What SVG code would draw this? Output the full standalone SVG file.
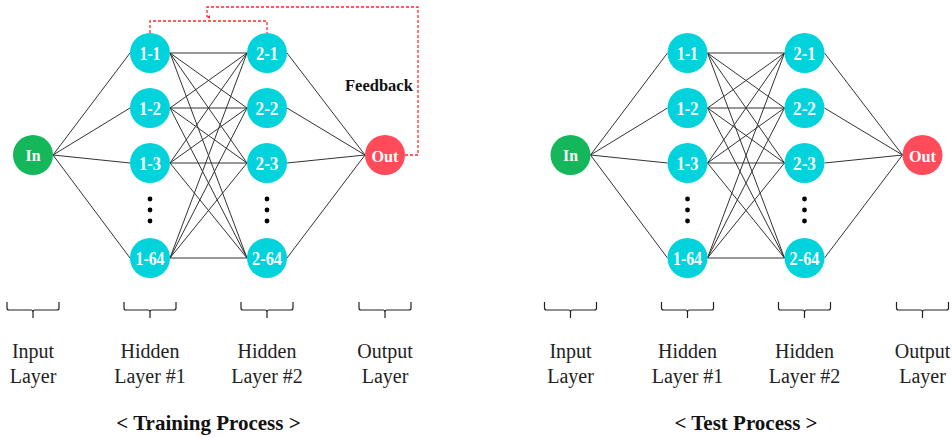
<svg xmlns="http://www.w3.org/2000/svg" width="952" height="438" viewBox="0 0 952 438">
<defs>
<style>
.bg{fill:#ffffff}
.edge{stroke:#333333;stroke-width:1;fill:none}
.fb{stroke:#ff2a2a;stroke-width:1.3;fill:none;stroke-dasharray:3 2}
.hid{fill:#00d3dc}
.inn{fill:#14b85a}
.out{fill:#ff4b5a}
.nl{font-family:"Liberation Serif","Times New Roman",serif;font-weight:bold;fill:#ffffff;text-anchor:middle;font-size:19px}
.dot{fill:#000}
.br{stroke:#222;stroke-width:1.2;fill:none}
.lab{font-family:"Liberation Serif","Times New Roman",serif;font-size:20px;fill:#222;text-anchor:middle}
.title{font-family:"Liberation Serif","Times New Roman",serif;font-size:21px;font-weight:bold;fill:#111;text-anchor:middle}
.fbt{font-family:"Liberation Serif","Times New Roman",serif;font-size:16.5px;font-weight:bold;fill:#111}
</style>
<marker id="fbhead" viewBox="0 0 6 6" refX="3" refY="5" markerWidth="4" markerHeight="4" orient="auto-start-reverse" markerUnits="userSpaceOnUse">
<path d="M0,0 L6,0 L3,6 Z" fill="#ff2a2a"/>
</marker>
<g id="edges-panel">
<path class="edge" d="M53 155L130 53M53 155L130 108M53 155L130 163M53 155L130 258"/>
<path class="edge" d="M170 53L247 53M170 53L247 108M170 53L247 163M170 53L247 258M170 108L247 53M170 108L247 108M170 108L247 163M170 108L247 258M170 163L247 53M170 163L247 108M170 163L247 163M170 163L247 258M170 258L247 53M170 258L247 108M170 258L247 163M170 258L247 258"/>
<path class="edge" d="M287 53L365 155M287 108L365 155M287 163L365 155M287 258L365 155"/>
</g>
</defs>
<rect class="bg" x="0" y="0" width="952" height="438"/>

<!-- Training panel -->
<g id="connectors-training">
<use href="#edges-panel"/>
<path class="fb" d="M405 155H418V7H207V17" marker-end="url(#fbhead)"/>
<path class="fb" d="M150 33V21H267V33"/>
</g>
<g id="t-in"><circle class="inn" cx="33" cy="155" r="20"/><text class="nl" x="33" y="161" style="font-size:17px" textLength="15" lengthAdjust="spacingAndGlyphs">In</text></g>
<g id="t-h1-1"><circle class="hid" cx="150" cy="53" r="20"/><text class="nl" x="150" y="60" textLength="21" lengthAdjust="spacingAndGlyphs">1-1</text></g>
<g id="t-h1-2"><circle class="hid" cx="150" cy="108" r="20"/><text class="nl" x="150" y="115" textLength="22" lengthAdjust="spacingAndGlyphs">1-2</text></g>
<g id="t-h1-3"><circle class="hid" cx="150" cy="163" r="20"/><text class="nl" x="150" y="170" textLength="22" lengthAdjust="spacingAndGlyphs">1-3</text></g>
<g id="t-h1-64"><circle class="hid" cx="150" cy="258" r="20"/><text class="nl" x="150" y="265" textLength="29" lengthAdjust="spacingAndGlyphs">1-64</text></g>
<g id="t-h2-1"><circle class="hid" cx="267" cy="53" r="20"/><text class="nl" x="267" y="60" textLength="22" lengthAdjust="spacingAndGlyphs">2-1</text></g>
<g id="t-h2-2"><circle class="hid" cx="267" cy="108" r="20"/><text class="nl" x="267" y="115" textLength="23" lengthAdjust="spacingAndGlyphs">2-2</text></g>
<g id="t-h2-3"><circle class="hid" cx="267" cy="163" r="20"/><text class="nl" x="267" y="170" textLength="23" lengthAdjust="spacingAndGlyphs">2-3</text></g>
<g id="t-h2-64"><circle class="hid" cx="267" cy="258" r="20"/><text class="nl" x="267" y="265" textLength="30" lengthAdjust="spacingAndGlyphs">2-64</text></g>
<g id="t-out"><circle class="out" cx="385" cy="155" r="20"/><text class="nl" x="385" y="161.5" style="font-size:17px" textLength="27" lengthAdjust="spacingAndGlyphs">Out</text></g>
<g id="t-dots"><circle class="dot" cx="150" cy="199" r="2.4"/><circle class="dot" cx="150" cy="210" r="2.4"/><circle class="dot" cx="150" cy="221" r="2.4"/><circle class="dot" cx="267" cy="199" r="2.4"/><circle class="dot" cx="267" cy="210" r="2.4"/><circle class="dot" cx="267" cy="221" r="2.4"/></g>
<text class="fbt" x="345" y="91">Feedback</text>

<g id="t-labels">
<path class="br" d="M7 302V308Q7 310 9 310H31Q33 310 33 312V318M33 312Q33 310 35 310H57Q59 310 59 308V302"/>
<path class="br" d="M124 302V308Q124 310 126 310H148Q150 310 150 312V318M150 312Q150 310 152 310H174Q176 310 176 308V302"/>
<path class="br" d="M241 302V308Q241 310 243 310H265Q267 310 267 312V318M267 312Q267 310 269 310H291Q293 310 293 308V302"/>
<path class="br" d="M359 302V308Q359 310 361 310H383Q385 310 385 312V318M385 312Q385 310 387 310H409Q411 310 411 308V302"/>
<text class="lab" x="33" y="358">Input</text><text class="lab" x="33" y="383">Layer</text>
<text class="lab" x="150" y="358">Hidden</text><text class="lab" x="150" y="383">Layer #1</text>
<text class="lab" x="267" y="358">Hidden</text><text class="lab" x="267" y="383">Layer #2</text>
<text class="lab" x="385" y="358">Output</text><text class="lab" x="385" y="383">Layer</text>
<text class="title" x="208.5" y="430">&lt; Training Process &gt;</text>
</g>

<!-- Test panel -->
<g transform="translate(537.5,0)">
<g id="connectors-test"><use href="#edges-panel"/></g>
<g id="s-in"><circle class="inn" cx="33" cy="155" r="20"/><text class="nl" x="33" y="161" style="font-size:17px" textLength="15" lengthAdjust="spacingAndGlyphs">In</text></g>
<g id="s-h1-1"><circle class="hid" cx="150" cy="53" r="20"/><text class="nl" x="150" y="60" textLength="21" lengthAdjust="spacingAndGlyphs">1-1</text></g>
<g id="s-h1-2"><circle class="hid" cx="150" cy="108" r="20"/><text class="nl" x="150" y="115" textLength="22" lengthAdjust="spacingAndGlyphs">1-2</text></g>
<g id="s-h1-3"><circle class="hid" cx="150" cy="163" r="20"/><text class="nl" x="150" y="170" textLength="22" lengthAdjust="spacingAndGlyphs">1-3</text></g>
<g id="s-h1-64"><circle class="hid" cx="150" cy="258" r="20"/><text class="nl" x="150" y="265" textLength="29" lengthAdjust="spacingAndGlyphs">1-64</text></g>
<g id="s-h2-1"><circle class="hid" cx="267" cy="53" r="20"/><text class="nl" x="267" y="60" textLength="22" lengthAdjust="spacingAndGlyphs">2-1</text></g>
<g id="s-h2-2"><circle class="hid" cx="267" cy="108" r="20"/><text class="nl" x="267" y="115" textLength="23" lengthAdjust="spacingAndGlyphs">2-2</text></g>
<g id="s-h2-3"><circle class="hid" cx="267" cy="163" r="20"/><text class="nl" x="267" y="170" textLength="23" lengthAdjust="spacingAndGlyphs">2-3</text></g>
<g id="s-h2-64"><circle class="hid" cx="267" cy="258" r="20"/><text class="nl" x="267" y="265" textLength="30" lengthAdjust="spacingAndGlyphs">2-64</text></g>
<g id="s-out"><circle class="out" cx="385" cy="155" r="20"/><text class="nl" x="385" y="161.5" style="font-size:17px" textLength="27" lengthAdjust="spacingAndGlyphs">Out</text></g>
<g id="s-dots"><circle class="dot" cx="150" cy="199" r="2.4"/><circle class="dot" cx="150" cy="210" r="2.4"/><circle class="dot" cx="150" cy="221" r="2.4"/><circle class="dot" cx="267" cy="199" r="2.4"/><circle class="dot" cx="267" cy="210" r="2.4"/><circle class="dot" cx="267" cy="221" r="2.4"/></g>
<g id="s-labels">
<path class="br" d="M7 302V308Q7 310 9 310H31Q33 310 33 312V318M33 312Q33 310 35 310H57Q59 310 59 308V302"/>
<path class="br" d="M124 302V308Q124 310 126 310H148Q150 310 150 312V318M150 312Q150 310 152 310H174Q176 310 176 308V302"/>
<path class="br" d="M241 302V308Q241 310 243 310H265Q267 310 267 312V318M267 312Q267 310 269 310H291Q293 310 293 308V302"/>
<path class="br" d="M359 302V308Q359 310 361 310H383Q385 310 385 312V318M385 312Q385 310 387 310H409Q411 310 411 308V302"/>
<text class="lab" x="33" y="358">Input</text><text class="lab" x="33" y="383">Layer</text>
<text class="lab" x="150" y="358">Hidden</text><text class="lab" x="150" y="383">Layer #1</text>
<text class="lab" x="267" y="358">Hidden</text><text class="lab" x="267" y="383">Layer #2</text>
<text class="lab" x="385" y="358">Output</text><text class="lab" x="385" y="383">Layer</text>
<text class="title" x="208.5" y="430">&lt; Test Process &gt;</text>
</g>
</g>
</svg>
